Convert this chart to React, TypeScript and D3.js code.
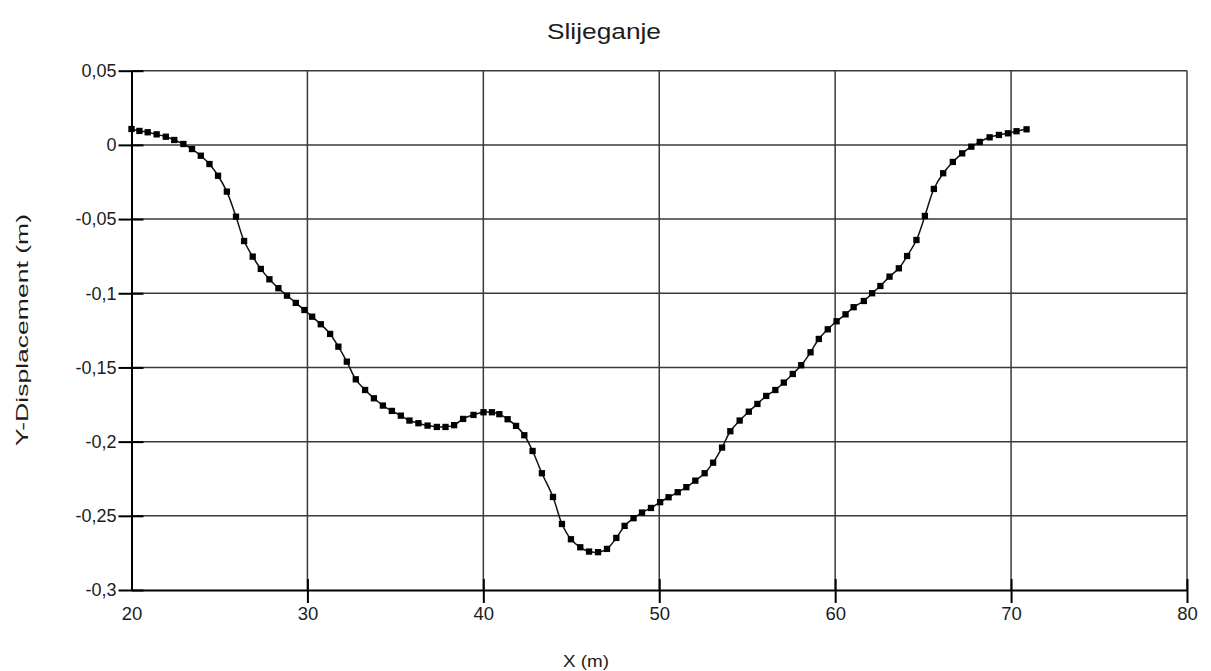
import React, { useEffect, useRef } from "react";
import * as d3 from "d3";

// points (x in m, y-displacement in m)
const xs = [
  20.0, 20.45, 20.92, 21.43, 21.95, 22.43, 22.95, 23.44, 23.94, 24.43, 24.92, 25.42, 25.94, 26.4, 26.89,
  27.35, 27.84, 28.35, 28.84, 29.34, 29.83, 30.27, 30.76, 31.29, 31.76, 32.24, 32.75, 33.28, 33.78, 34.29,
  34.8, 35.31, 35.8, 36.31, 36.83, 37.36, 37.85, 38.34, 38.85, 39.44, 40.01, 40.49, 40.91, 41.38, 41.86,
  42.33, 42.8, 43.33, 43.96, 44.47, 44.98, 45.51, 46.01, 46.52, 47.03, 47.56, 48.03, 48.54, 49.02, 49.53,
  50.05, 50.53, 51.05, 51.54, 52.05, 52.58, 53.06, 53.57, 54.04, 54.57, 55.09, 55.58, 56.08, 56.6, 57.08,
  57.59, 58.07, 58.6, 59.07, 59.58, 60.08, 60.59, 61.05, 61.63, 62.1, 62.57, 63.09, 63.62, 64.09, 64.62,
  65.1, 65.61, 66.14, 66.69, 67.22, 67.74, 68.22, 68.78, 69.31, 69.82, 70.31, 70.88,
];
const ys = [
  0.0107, 0.0094, 0.0085, 0.0071, 0.0055, 0.0033, 0.0006, -0.0028, -0.0073, -0.0129, -0.0208, -0.0315,
  -0.0484, -0.0648, -0.0753, -0.0836, -0.0906, -0.0966, -0.1016, -0.1065, -0.1113, -0.1158, -0.1209,
  -0.1274, -0.136, -0.1461, -0.158, -0.1652, -0.1708, -0.1757, -0.1793, -0.1825, -0.1858, -0.1876,
  -0.1892, -0.1901, -0.1901, -0.1889, -0.1847, -0.182, -0.1802, -0.1802, -0.1815, -0.1849, -0.1894,
  -0.1957, -0.2063, -0.2213, -0.2373, -0.2555, -0.2658, -0.2712, -0.2741, -0.2745, -0.2723, -0.2649,
  -0.2568, -0.2516, -0.2478, -0.2447, -0.2408, -0.2375, -0.2341, -0.2307, -0.2263, -0.2213, -0.2142,
  -0.204, -0.193, -0.1858, -0.1798, -0.1746, -0.1692, -0.1652, -0.1602, -0.1544, -0.1485, -0.1398,
  -0.1308, -0.1243, -0.1189, -0.1142, -0.1094, -0.1052, -0.1, -0.0951, -0.0888, -0.0832, -0.0749,
  -0.0641, -0.0479, -0.0297, -0.0191, -0.0115, -0.0057, -0.0012, 0.002, 0.0051, 0.0067, 0.0078, 0.0092,
  0.0105,
];
const xTicks = [20, 30, 40, 50, 60, 70, 80];
const yTicks = [0.05, 0, -0.05, -0.1, -0.15, -0.2, -0.25, -0.3];

const W = 1211;
const H = 671;
const font = "'Liberation Sans', Arial, sans-serif";
const txt = "#1c1c1c";

function App() {
  const ref = useRef<SVGSVGElement>(null);

  useEffect(() => {
    const svg = d3.select(ref.current);
    svg.selectAll("*").remove();

    const x = d3.scaleLinear().domain([20, 80]).range([131.5, 1187]);
    const y = d3.scaleLinear().domain([-0.3, 0.05]).range([590, 70.7]);
    const fmt = (d: number) => String(+d.toFixed(2)).replace(".", ",");

    // grid
    const grid = svg.append("g").attr("stroke", "#3a3a3a").attr("stroke-width", 1.5);
    grid.selectAll("line.v").data(xTicks.slice(1)).enter().append("line")
      .attr("x1", (d) => x(d)).attr("x2", (d) => x(d))
      .attr("y1", y(0.05)).attr("y2", y(-0.3));
    grid.selectAll("line.h").data(yTicks.slice(0, -1)).enter().append("line")
      .attr("x1", x(20)).attr("x2", x(80))
      .attr("y1", (d) => y(d)).attr("y2", (d) => y(d));

    // axes
    const yAxis = d3.axisLeft(y).tickValues(yTicks).tickFormat((d) => fmt(+d))
      .tickSizeInner(13).tickSizeOuter(0).tickPadding(2);
    const gy = svg.append("g").attr("transform", `translate(${x(20)},0)`).call(yAxis);
    gy.select(".domain").attr("stroke", "#000").attr("stroke-width", 2);
    gy.selectAll(".tick line").attr("stroke", "#000").attr("stroke-width", 2).attr("x2", 12).attr("x1", -13);
    gy.selectAll(".tick text").attr("font-family", font).attr("font-size", 18).attr("fill", txt);

    const xAxis = d3.axisBottom(x).tickValues(xTicks).tickFormat((d) => String(d))
      .tickSizeInner(13).tickSizeOuter(0).tickPadding(4);
    const gx = svg.append("g").attr("transform", `translate(0,${y(-0.3)})`).call(xAxis);
    gx.select(".domain").attr("stroke", "#000").attr("stroke-width", 2);
    gx.selectAll(".tick line").attr("stroke", "#000").attr("stroke-width", 2).attr("y1", -11);
    gx.selectAll(".tick").filter((d) => d === 20).select("line").remove();
    gx.selectAll(".tick text").attr("font-family", font).attr("font-size", 18.5).attr("fill", txt);

    // curve + markers
    const pts = xs.map((v, i) => [v, ys[i]] as [number, number]);
    const line = d3.line<[number, number]>()
      .x((d) => x(d[0])).y((d) => y(d[1]))
      .curve(d3.curveCatmullRom);
    svg.append("path").datum(pts).attr("d", line).attr("fill", "none")
      .attr("stroke", "#111").attr("stroke-width", 1.5);
    const s = 6.3;
    svg.append("g").selectAll("rect").data(pts).enter().append("rect")
      .attr("x", (d) => x(d[0]) - s / 2).attr("y", (d) => y(d[1]) - s / 2)
      .attr("width", s).attr("height", s).attr("fill", "#000");

    // titles (the source image is stretched, so lengths are fixed)
    svg.append("text").attr("x", 604).attr("y", 39).attr("text-anchor", "middle")
      .attr("font-family", font).attr("font-size", 22).attr("fill", txt)
      .attr("textLength", 114).attr("lengthAdjust", "spacingAndGlyphs").text("Slijeganje");
    svg.append("text").attr("x", 586).attr("y", 667).attr("text-anchor", "middle")
      .attr("font-family", font).attr("font-size", 17).attr("fill", txt)
      .attr("textLength", 46).attr("lengthAdjust", "spacingAndGlyphs").text("X (m)");
    svg.append("text").attr("transform", "translate(28,330) rotate(-90)").attr("text-anchor", "middle")
      .attr("font-family", font).attr("font-size", 17).attr("fill", txt)
      .attr("textLength", 232).attr("lengthAdjust", "spacingAndGlyphs").text("Y-Displacement (m)");
  }, []);

  return (
    <svg ref={ref} width={W} height={H}
      style={{ position: "absolute", left: 0, top: 0, background: "#fff" }} />
  );
}

export default App;
